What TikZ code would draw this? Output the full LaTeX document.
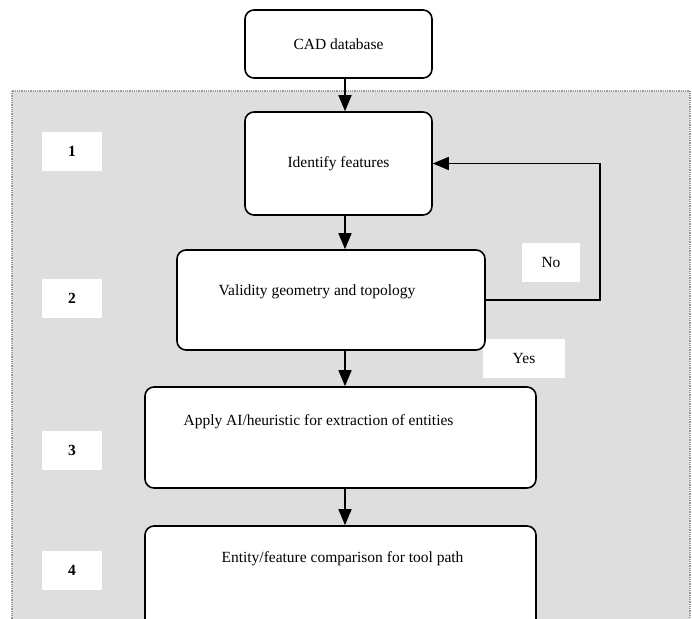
\documentclass[tikz,border=0pt]{standalone}
\usepackage{fontspec}
\setmainfont{Liberation Serif}
\usetikzlibrary{arrows.meta}
\tikzset{
 stage/.style={draw,line width=1.6pt,rounded corners=9pt,fill=white},
 tag/.style={fill=white,minimum width=60pt,minimum height=39pt,font=\fontsize{15.5}{18}\selectfont\bfseries},
 answer/.style={fill=white,minimum height=39pt},
 flow/.style={line width=1.6pt,-{Triangle[length=16pt,width=13pt]}}
}
\begin{document}
\begin{tikzpicture}[x=1pt,y=-1pt,font=\fontsize{15.5}{18}\selectfont]
 \clip (0,0) rectangle (692,618);
 \fill[white] (0,0) rectangle (692,618);
 \draw[fill=gray!26,draw=gray!80,line width=1.8pt,dash pattern=on 1pt off 0.8pt] (12,91) rectangle (690,640);

 \node[tag] (t1) at (72,151.5) {1};
 \node[tag] (t2) at (72,298.5) {2};
 \node[tag] (t3) at (72,450.5) {3};
 \node[tag] (t4) at (72,570) {4};

 \node[answer,minimum width=58pt] (no) at (551,262.5) {No};
 \node[answer,minimum width=82pt] (yes) at (524,358) {Yes};

 \node[stage,minimum width=187pt,minimum height=68pt] (cad) at (338.5,44) {CAD database};
 \node[stage,minimum width=187pt,minimum height=103pt] (ident) at (338.5,163.5) {Identify features};
 \node[stage,minimum width=308pt,minimum height=100pt,label={[anchor=center,xshift=-14pt,yshift=-43pt]north:Validity geometry and topology}] (valid) at (331,300) {};
 \node[stage,minimum width=391pt,minimum height=101pt,label={[anchor=center,xshift=-22pt,yshift=-36pt]north:Apply AI/heuristic for extraction of entities}] (apply) at (340.5,437.5) {};
 \node[stage,minimum width=391pt,minimum height=120pt,label={[anchor=center,xshift=2pt,yshift=-34pt]north:Entity/feature comparison for tool path}] (entity) at (340.5,586) {};

 \draw[flow] ([xshift=6.5pt]cad.south) -- ([xshift=6.5pt]ident.north);
 \draw[flow] ([xshift=6.5pt]ident.south) -- ([xshift=6.5pt]ident.south |- valid.north);
 \draw[flow] ([xshift=6.5pt]ident.south |- valid.south) -- ([xshift=6.5pt]ident.south |- apply.north);
 \draw[flow] ([xshift=6.5pt]ident.south |- apply.south) -- ([xshift=6.5pt]ident.south |- entity.north);
 \draw[flow] (valid.east) -- ++(114,0) |- (ident.east);
\end{tikzpicture}
\end{document}
